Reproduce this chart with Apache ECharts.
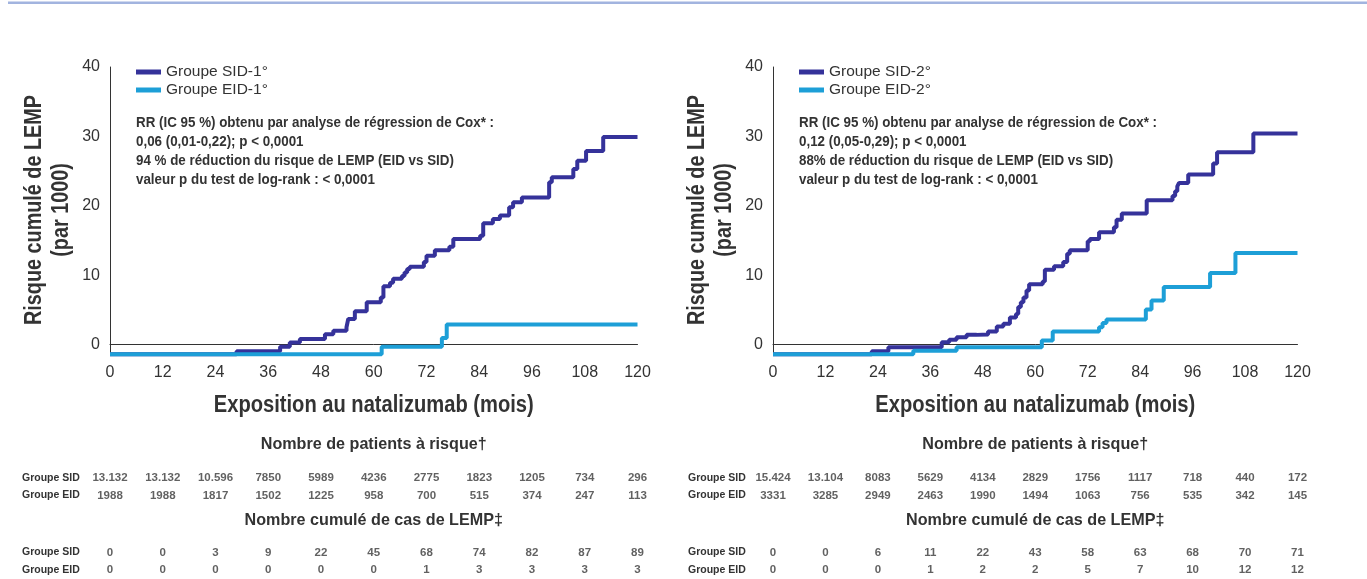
<!DOCTYPE html>
<html><head><meta charset="utf-8">
<script src="https://cdn.jsdelivr.net/npm/echarts@6/dist/echarts.min.js"></script>
<style>html,body{margin:0;padding:0;background:#fff}#c{width:1367px;height:579px}</style>
</head><body><div id="c"></div>
<script>
// ---- data ----
const monthTicks = [0, 12, 24, 36, 48, 60, 72, 84, 96, 108, 120];
const yTicks = [0, 10, 20, 30, 40];
const rowNames = ['Groupe SID', 'Groupe EID'];

// cumulative risk (per 1000) step curves [month, value]
const sid1 = [[0,-1.4],[28.8,-0.95],[38.7,-0.3],[40.9,0.3],[43.2,0.8],[48.9,1.5],[50.8,2.0],[53.8,2.5],[54.2,3.7],[55.7,4.8],[58.4,6.1],[61.6,6.8],[62.2,8.4],[63.7,8.9],[64.4,9.5],[66.4,9.9],[67.0,10.4],[67.6,10.9],[68.2,11.2],[71.4,11.9],[72.0,12.8],[73.9,13.6],[77.2,14.1],[78.1,15.2],[84.2,15.7],[84.9,17.5],[87.1,18.1],[88.7,18.6],[90.8,19.8],[91.7,20.5],[93.7,21.2],[99.9,23.4],[100.5,24.1],[105.4,25.3],[106.3,26.5],[108.3,27.9],[112.2,29.9],[120,29.9]];
const eid1 = [[0,-1.4],[61.8,-0.3],[75.5,0.96],[76.6,2.9],[120,2.9]];
const sid2 = [[0,-1.4],[22.6,-0.95],[26.4,-0.4],[37.4,-0.4],[38.6,0.33],[40.3,0.7],[42.0,1.05],[44.3,1.4],[46.6,1.45],[49.2,1.9],[51.2,2.6],[52.7,3.0],[54.2,3.9],[55.6,4.4],[56.1,5.4],[56.7,6.1],[57.3,6.8],[58.0,7.8],[58.6,8.7],[61.7,9.1],[62.2,10.8],[64.3,11.3],[66.4,11.9],[67.3,13.1],[67.9,13.6],[72.0,14.9],[72.5,15.2],[74.6,16.2],[78.0,16.9],[78.6,18.0],[79.8,18.9],[85.5,20.8],[91.4,21.4],[92.0,22.1],[92.5,22.8],[92.9,23.3],[95.0,24.5],[100.7,26.1],[101.6,27.7],[109.9,30.4],[120,30.4]];
const eid2 = [[0,-1.4],[32.1,-0.87],[42.0,-0.4],[61.5,0.58],[64.0,1.9],[74.6,2.5],[75.4,3.1],[76.3,3.6],[85.3,5.05],[86.6,6.35],[89.4,8.3],[100.0,10.3],[105.8,13.2],[120,13.2]];

// patients at risk / cumulative PML cases
const atRiskSid1 = [13132,13132,10596,7850,5989,4236,2775,1823,1205,734,296];
const atRiskEid1 = [1988,1988,1817,1502,1225,958,700,515,374,247,113];
const casesSid1 = [0,0,3,9,22,45,68,74,82,87,89];
const casesEid1 = [0,0,0,0,0,0,1,3,3,3,3];
const atRiskSid2 = [15424,13104,8083,5629,4134,2829,1756,1117,718,440,172];
const atRiskEid2 = [3331,3285,2949,2463,1990,1494,1063,756,535,342,145];
const casesSid2 = [0,0,6,11,22,43,58,63,68,70,71];
const casesEid2 = [0,0,0,1,2,2,5,7,10,12,12];

const names1 = ['Groupe SID-1°', 'Groupe EID-1°'];
const names2 = ['Groupe SID-2°', 'Groupe EID-2°'];
const notes1 = ['RR (IC 95 %) obtenu par analyse de régression de Cox* :', '0,06 (0,01-0,22); p < 0,0001', '94 % de réduction du risque de LEMP (EID vs SID)', 'valeur p du test de log-rank : < 0,0001'];
const notes2 = ['RR (IC 95 %) obtenu par analyse de régression de Cox* :', '0,12 (0,05-0,29); p < 0,0001', '88% de réduction du risque de LEMP (EID vs SID)', 'valeur p du test de log-rank : < 0,0001'];
const header1 = 'Nombre de patients à risque†';
const header2 = 'Nombre cumulé de cas de LEMP‡';
const xTitle = 'Exposition au natalizumab (mois)';
const yTitle1 = 'Risque cumulé de LEMP';
const yTitle2 = '(par 1000)';

// ---- style / layout ----
const C_SID = '#35329a', C_EID = '#1d9fd7', TXT = '#333';
const FR = '"Liberation Sans",Arial,sans-serif';
const panels = [{left: 110, width: 527.5, rowLab: 22}, {left: 773, width: 524.5, rowLab: 688}];
const PLOT_TOP = 67, PLOT_H = 288;

function fmt(n) { return n >= 10000 ? Math.floor(n / 1000) + '.' + String(n % 1000).padStart(3, '0') : String(n); }

const mctx = document.createElement('canvas').getContext('2d');
function measure(text, size) { mctx.font = 'bold ' + size + 'px ' + FR; return mctx.measureText(text).width; }
// condensed-looking text: horizontally squeezed to a target width
function condText(text, firstLine, x, y, size, target, extra) {
  const s = target / measure(firstLine, size);
  return Object.assign({type: 'text', x: x, y: y, scaleX: s,
    style: {text: text, fill: TXT, fontSize: size, fontWeight: 'bold', fontFamily: FR}}, extra || {});
}

const grids = [], xAxes = [], yAxes = [], series = [], legends = [], graphics = [];

panels.forEach((p, k) => {
  const names = k === 0 ? names1 : names2;
  const curves = k === 0 ? [sid1, eid1] : [sid2, eid2];
  const tables = k === 0 ? [[atRiskSid1, atRiskEid1], [casesSid1, casesEid1]] : [[atRiskSid2, atRiskEid2], [casesSid2, casesEid2]];
  const notes = k === 0 ? notes1 : notes2;
  const cx = p.left + p.width / 2;
  // main plot
  const gi = grids.length;
  grids.push({left: p.left, width: p.width, top: PLOT_TOP, height: PLOT_H});
  xAxes.push({gridIndex: gi, type: 'value', min: 0, max: 120, interval: 12,
    axisLine: {lineStyle: {color: TXT, width: 1}}, axisTick: {show: false}, splitLine: {show: false},
    axisLabel: {color: TXT, fontSize: 16, fontFamily: FR, margin: 10}});
  yAxes.push({gridIndex: gi, type: 'value', min: -1.5, max: 40,
    axisLine: {show: true, lineStyle: {color: TXT, width: 1}}, axisTick: {show: false}, splitLine: {show: false},
    axisLabel: {color: TXT, fontSize: 16, fontFamily: FR, margin: 10, customValues: yTicks}});
  curves.forEach((d, j) => {
    series.push({type: 'line', name: names[j], xAxisIndex: gi, yAxisIndex: gi, data: d, step: 'end',
      showSymbol: false, symbol: 'none', z: 3 + j, color: j === 0 ? C_SID : C_EID,
      lineStyle: {width: 4, color: j === 0 ? C_SID : C_EID}});
  });
  legends.push({data: names, left: p.left + 26, top: 64, orient: 'vertical', icon: 'rect', padding: 0,
    itemWidth: 25, itemHeight: 5, itemGap: 2,
    textStyle: {color: TXT, fontSize: 15.5, fontFamily: FR}});
  // titles and notes
  graphics.push(condText(xTitle, xTitle, cx, 406, 23, 320,
    {style: {text: xTitle, fill: TXT, fontSize: 23, fontWeight: 'bold', fontFamily: FR, align: 'center', verticalAlign: 'middle'}}));
  graphics.push(condText(yTitle1 + '\n' + yTitle2, yTitle1, p.left - 62, PLOT_TOP + PLOT_H / 2 - 1, 23, 230,
    {rotation: Math.PI / 2,
     style: {text: yTitle1 + '\n' + yTitle2, fill: TXT, fontSize: 23, fontWeight: 'bold', fontFamily: FR,
       align: 'center', verticalAlign: 'middle', lineHeight: 27}}));
  graphics.push(condText(notes.join('\n'), notes[0], p.left + 26, 114, 14, 358,
    {style: {text: notes.join('\n'), fill: TXT, fontSize: 14, fontWeight: 'bold', fontFamily: FR, lineHeight: 19}}));
  // tables
  const blockTops = [478, 552.5], dotOffsets = [16.5, 16];
  const headerY = [444, 520];
  const headers = [header1, header2];
  tables.forEach((rows, b) => {
    const ti = grids.length;
    grids.push({left: p.left, width: p.width, top: blockTops[b], height: 17.5});
    xAxes.push({gridIndex: ti, type: 'value', min: 0, max: 120, position: 'top', offset: dotOffsets[b],
      axisLine: {lineStyle: {color: '#888', width: 1, type: [1, 2]}}, axisTick: {show: false},
      axisLabel: {show: false}, splitLine: {show: false}});
    yAxes.push({gridIndex: ti, type: 'category', data: rowNames, inverse: true, boundaryGap: false,
      axisLine: {show: false}, axisTick: {show: false}, splitLine: {show: false},
      axisLabel: {align: 'left', margin: p.left - p.rowLab, color: TXT, fontSize: 10.5, fontWeight: 'bold', fontFamily: FR}});
    const data = [];
    rows.forEach((vals, r) => vals.forEach((v, i) => data.push([monthTicks[i], r, v])));
    series.push({type: 'scatter', xAxisIndex: ti, yAxisIndex: ti, data: data, symbolSize: 1,
      itemStyle: {color: 'rgba(0,0,0,0)'}, silent: true,
      label: {show: true, position: 'inside', color: '#3a3a3a', fontSize: 11.5, fontFamily: FR, fontWeight: 'bold',
        formatter: q => fmt(q.value[2])}});
    graphics.push(condText(headers[b], header1, cx, headerY[b], 17, 226,
      {style: {text: headers[b], fill: TXT, fontSize: 17, fontWeight: 'bold', fontFamily: FR, align: 'center', verticalAlign: 'middle'}}));
  });
});

graphics.push({type: 'rect', shape: {x: 8, y: 1.5, width: 1359, height: 2.5}, style: {fill: '#a2b4df'}});

const chart = echarts.init(document.getElementById('c'), null, {renderer: 'canvas'});
chart.setOption({
  animation: false, backgroundColor: '#fff',
  grid: grids, xAxis: xAxes, yAxis: yAxes, series: series, legend: legends, graphic: graphics
});
</script></body></html>
